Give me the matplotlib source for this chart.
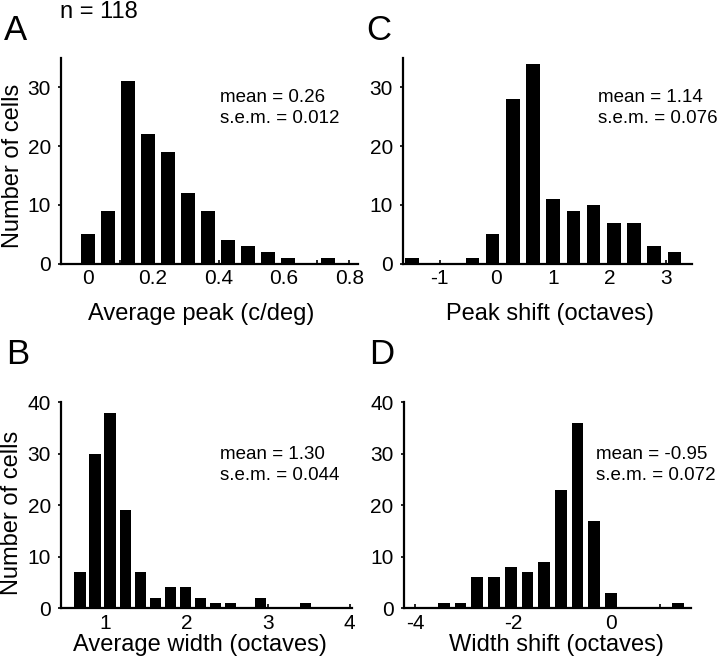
import matplotlib
matplotlib.use("Agg")
import matplotlib.pyplot as plt
import numpy as np

plt.rcParams['font.family'] = ['Liberation Sans', 'DejaVu Sans']
plt.rcParams['axes.unicode_minus'] = False

# A: average peak (c/deg)
peak_bins = [0.0, 0.061, 0.122, 0.184, 0.245, 0.306, 0.367, 0.428, 0.490, 0.551, 0.612, 0.673, 0.734]
peak_counts = [5, 9, 31, 22, 19, 12, 9, 4, 3, 2, 1, 0, 1]

# C: peak shift (octaves)
pshift_bins = [-1.49, -1.133, -0.776, -0.419, -0.062, 0.295, 0.652, 1.009, 1.366, 1.723, 2.08, 2.437, 2.794, 3.151]
pshift_counts = [1, 0, 0, 1, 5, 28, 34, 11, 9, 10, 7, 7, 3, 2]

# B: average width (octaves)
width_bins = [0.70, 0.884, 1.068, 1.252, 1.436, 1.62, 1.804, 1.988, 2.172, 2.356, 2.54, 2.724, 2.908, 3.092, 3.276, 3.46]
width_counts = [7, 30, 38, 19, 7, 2, 4, 4, 2, 1, 1, 0, 2, 0, 0, 1]

# D: width shift (octaves)
wshift_bins = [-3.41, -3.069, -2.728, -2.387, -2.046, -1.705, -1.364, -1.023, -0.682, -0.341, 0.0, 0.341, 0.682, 1.023, 1.364]
wshift_counts = [1, 1, 6, 6, 8, 7, 9, 23, 36, 17, 3, 0, 0, 0, 1]

fig = plt.figure(figsize=(7.2, 6.66), dpi=100)

def panel(rect, bins, counts, width, xlim, xticks, xticklabels, minor, ylim, yticks,
          xlabel, xlab_xy, stats, stats_xy, letter, letter_xy, ylab_xy=None):
    ax = fig.add_axes(rect)
    ax.bar(bins, counts, width=width, color='black', edgecolor='none')
    ax.set_xlim(xlim)
    ax.set_ylim(ylim)
    ax.set_xticks(xticks)
    ax.set_xticklabels(xticklabels)
    if minor is not None:
        ax.set_xticks(minor, minor=True)
    ax.set_yticks(yticks)
    for s in ['top', 'right']:
        ax.spines[s].set_visible(False)
    for s in ['left', 'bottom']:
        ax.spines[s].set_linewidth(1.6)
    ax.tick_params(axis='x', which='both', direction='in', length=3, width=1.2,
                   labelsize=15, pad=4)
    ax.tick_params(axis='y', direction='out', length=2.5, width=1.2, labelsize=15, pad=5)
    ax.set_xlabel(xlabel, fontsize=17)
    ax.xaxis.set_label_coords(xlab_xy[0], xlab_xy[1])
    if ylab_xy is not None:
        ax.set_ylabel('Number of cells', fontsize=17)
        ax.yaxis.set_label_coords(ylab_xy[0], ylab_xy[1])
    ax.text(stats_xy[0], stats_xy[1], stats, transform=ax.transAxes, fontsize=13.5,
            linespacing=1.3, va='center', ha='left')
    fig.text(letter_xy[0], letter_xy[1], letter, fontsize=25, ha='left', va='center')
    return ax

panel([0.085, 0.604, 0.412, 0.309], peak_bins, peak_counts, 0.043,
      (-0.081, 0.826), [0, 0.2, 0.4, 0.6, 0.8], ['0', '0.2', '0.4', '0.6', '0.8'],
      np.arange(0.1, 0.8, 0.2), (0, 35), [0, 10, 20, 30],
      'Average peak (c/deg)', (0.473, -0.19),
      'mean = 0.26\ns.e.m. = 0.012', (0.535, 0.756), 'A', (0.005, 0.954),
      ylab_xy=(-0.127, 0.476))

panel([0.560, 0.604, 0.401, 0.309], pshift_bins, pshift_counts, 0.24,
      (-1.643, 3.46), [-1, 0, 1, 2, 3], ['-1', '0', '1', '2', '3'],
      None, (0, 35), [0, 10, 20, 30],
      'Peak shift (octaves)', (0.509, -0.19),
      'mean = 1.14\ns.e.m. = 0.076', (0.676, 0.756), 'C', (0.509, 0.954))

panel([0.085, 0.087, 0.404, 0.309], width_bins, width_counts, 0.143,
      (0.466, 4.03), [1, 2, 3, 4], ['1', '2', '3', '4'],
      None, (0, 40), [0, 10, 20, 30, 40],
      'Average width (octaves)', (0.476, -0.128),
      'mean = 1.30\ns.e.m. = 0.044', (0.546, 0.695), 'B', (0.008, 0.467),
      ylab_xy=(-0.13, 0.462))

panel([0.561, 0.087, 0.399, 0.309], wshift_bins, wshift_counts, 0.239,
      (-4.225, 1.64), [-4, -2, 0], ['-4', '-2', '0'],
      [-3, -1, 1], (0, 40), [0, 10, 20, 30, 40],
      'Width shift (octaves)', (0.53, -0.128),
      'mean = -0.95\ns.e.m. = 0.072', (0.67, 0.695), 'D', (0.513, 0.467))

fig.text(0.083, 0.998, 'n = 118', fontsize=17, ha='left', va='top')

fig.savefig('out.png', dpi=100)
